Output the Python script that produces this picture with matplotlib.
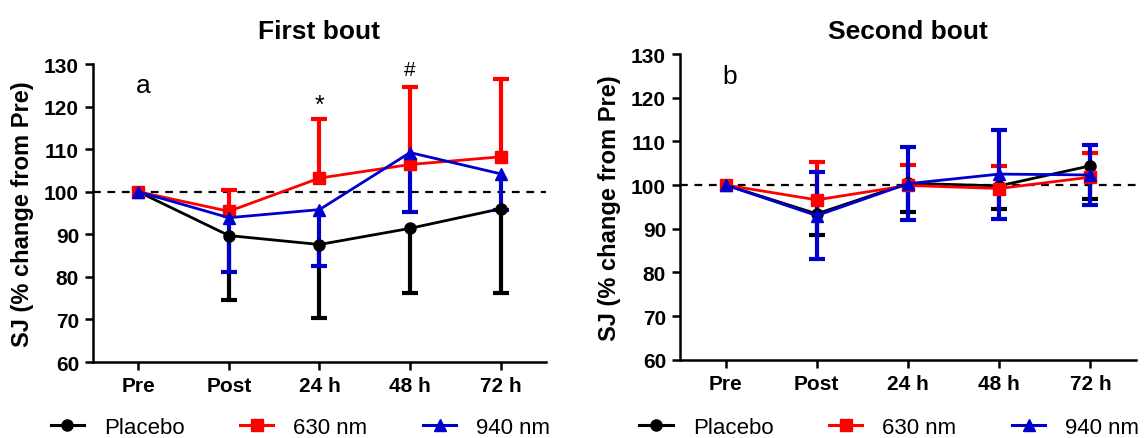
import matplotlib
matplotlib.use("Agg")
import matplotlib.pyplot as plt
from matplotlib.lines import Line2D
import numpy as np

plt.rcParams['font.family'] = ['Liberation Sans', 'DejaVu Sans']

categories = ["Pre", "Post", "24 h", "48 h", "72 h"]
series_names = ["Placebo", "630 nm", "940 nm"]
colors = ["black", "#ff0000", "#0000cc"]
markers = ["o", "s", "^"]

# First bout (panel a)
placebo_a = [100, 89.7, 87.6, 91.4, 96.0]
placebo_a_sd = [0, 15.1, 17.2, 15.1, 19.7]      # drawn downward
red_a = [100, 95.4, 103.2, 106.4, 108.2]
red_a_sd = [0, 5.1, 13.8, 18.3, 18.2]           # drawn upward
blue_a = [100, 93.9, 95.8, 109.2, 104.2]
blue_a_sd = [0, 12.7, 13.2, 14.0, 8.6]          # drawn downward

# Second bout (panel b)
placebo_b = [100, 93.4, 100.4, 99.8, 104.4]
placebo_b_sd = [0, 4.9, 6.6, 5.4, 7.5]          # downward
red_b = [100, 96.6, 99.9, 99.2, 101.8]
red_b_sd = [0, 8.7, 4.6, 5.1, 5.6]              # upward
blue_b = [100, 93.0, 100.3, 102.5, 102.3]
blue_b_sd = [0, 10.0, 8.4, 10.2, 6.8]           # both directions

fig = plt.figure(figsize=(11.48, 4.39), dpi=100)
axA = fig.add_axes([0.0810, 0.1731, 0.3946, 0.6788])
axB = fig.add_axes([0.5923, 0.1784, 0.3972, 0.6963])

x = np.arange(len(categories))


def draw_series(ax, means, sd, color, marker, direction, ms):
    means = np.array(means, dtype=float)
    sd = np.array(sd, dtype=float)
    ax.plot(x, means, color=color, lw=2.0, marker=marker, ms=ms, zorder=3)
    if direction in ("down", "both"):
        lo = means - sd
        ax.vlines(x, means, lo, color=color, lw=3.0, zorder=2.5)
        ax.plot(x[sd > 0], lo[sd > 0], ls="none", marker="_", ms=11, mew=3.0,
                color=color, zorder=2.5)
    if direction in ("up", "both"):
        hi = means + sd
        ax.vlines(x, means, hi, color=color, lw=3.0, zorder=2.5)
        ax.plot(x[sd > 0], hi[sd > 0], ls="none", marker="_", ms=11, mew=3.0,
                color=color, zorder=2.5)


def style_axis(ax, title, letter, title_x):
    ax.set_xlim(-0.5, 4.5)
    ax.set_ylim(60, 130)
    ax.set_yticks(np.arange(60, 131, 10))
    ax.set_xticks(x)
    ax.set_xticklabels(categories)
    for s in ["top", "right"]:
        ax.spines[s].set_visible(False)
    for s in ["left", "bottom"]:
        ax.spines[s].set_linewidth(1.8)
    ax.tick_params(axis="both", width=1.8, length=6, labelsize=15, pad=4)
    for lab in ax.get_xticklabels() + ax.get_yticklabels():
        lab.set_fontweight("bold")
    ax.axhline(100, color="black", lw=1.6, ls=(0, (3.5, 3)), zorder=1)
    ax.set_ylabel("SJ (% change from Pre)", fontsize=17, fontweight="bold")
    ax.yaxis.set_label_coords(-0.13, 0.5)
    fig.text(title_x, 0.927, title, fontsize=19, fontweight="bold", ha="center", va="center")
    ax.text(0.05, 125, letter, fontsize=19, ha="center", va="center")


draw_series(axA, placebo_a, placebo_a_sd, colors[0], markers[0], "down", 8)
draw_series(axA, red_a, red_a_sd, colors[1], markers[1], "up", 8.5)
draw_series(axA, blue_a, blue_a_sd, colors[2], markers[2], "down", 9)
style_axis(axA, "First bout", "a", 0.2783)
axA.text(2, 120.5, "*", fontsize=18, ha="center", va="center")
axA.text(3, 128.6, "#", fontsize=15, ha="center", va="center")

draw_series(axB, placebo_b, placebo_b_sd, colors[0], markers[0], "down", 8)
draw_series(axB, red_b, red_b_sd, colors[1], markers[1], "up", 8.5)
draw_series(axB, blue_b, blue_b_sd, colors[2], markers[2], "both", 9)
style_axis(axB, "Second bout", "b", 0.7909)

handles = [Line2D([0], [0], color=c, lw=2.2, marker=m, ms=8) for c, m in zip(colors, markers)]
for ax_left in (0.044, 0.557):
    fig.legend(handles, series_names, loc="center left", bbox_to_anchor=(ax_left, 0.025),
               ncol=3, frameon=False, fontsize=16, handlelength=1.5, handletextpad=0.9,
               columnspacing=2.5, borderaxespad=0, borderpad=0)

fig.savefig("out.png", dpi=100)
